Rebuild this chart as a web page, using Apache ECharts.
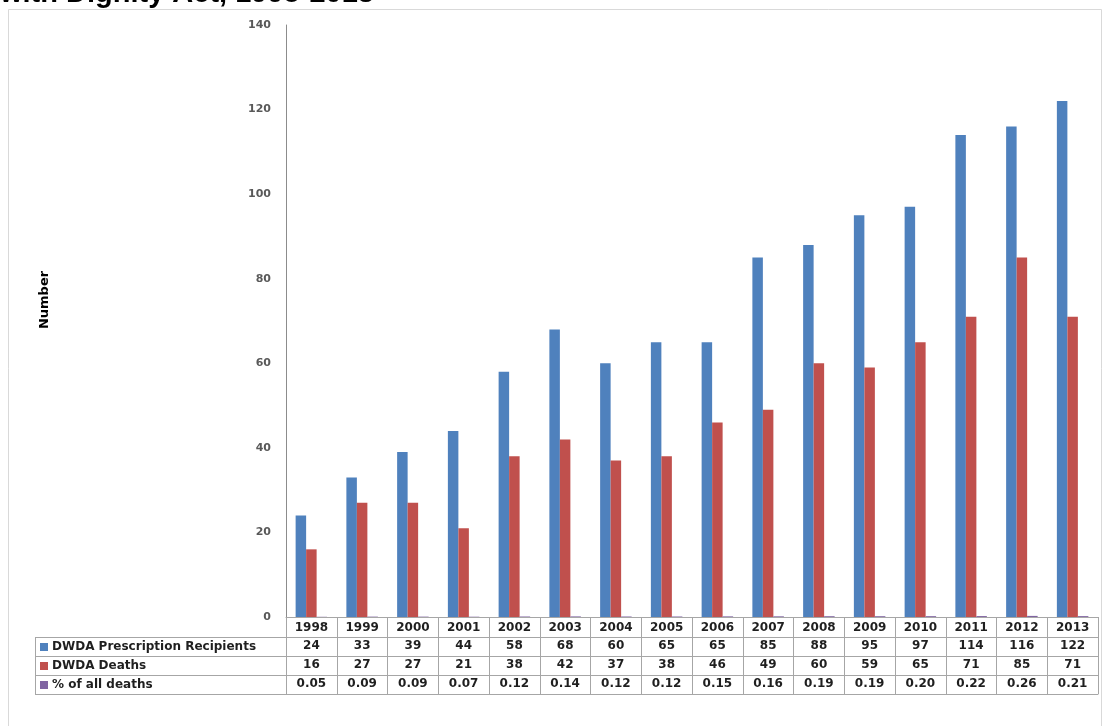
<!DOCTYPE html>
<html>
<head>
<meta charset="utf-8">
<title>DWDA prescription recipients and deaths, 1998-2013</title>
<script src="https://cdn.jsdelivr.net/npm/echarts@6/dist/echarts.min.js"></script>
<style>
  html, body { margin: 0; padding: 0; background: #ffffff; }
  #chart { width: 1107px; height: 726px; }
</style>
</head>
<body>
<div id="chart"></div>
<script>
// Oregon Death with Dignity Act, yearly figures
const years = ['1998', '1999', '2000', '2001', '2002', '2003', '2004', '2005',
               '2006', '2007', '2008', '2009', '2010', '2011', '2012', '2013'];
const recipients = [24, 33, 39, 44, 58, 68, 60, 65, 65, 85, 88, 95, 97, 114, 116, 122];
const deaths = [16, 27, 27, 21, 38, 42, 37, 38, 46, 49, 60, 59, 65, 71, 85, 71];
const pctOfAllDeaths = [0.05, 0.09, 0.09, 0.07, 0.12, 0.14, 0.12, 0.12,
                        0.15, 0.16, 0.19, 0.19, 0.20, 0.22, 0.26, 0.21];
const seriesNames = ['DWDA Prescription Recipients', 'DWDA Deaths', '% of all deaths'];
const yMin = 0, yMax = 140, yStep = 20;

const colors = ['#4F81BD', '#C0504D', '#8064A2'];
const lineColor = '#a6a6a6';
const textColor = '#1f1f1f';
const tableFont = 'DejaVu Sans';

// geometry of the plot and the data table under it
const gridLeft = 286, gridTop = 25, gridRight = 9, gridBottom = 109;
const chartBottom = 726 - gridBottom;       // y of the zero line
const yearRowH = 20, rowH = 19;
const rowOffsets = [yearRowH, yearRowH + rowH, yearRowH + 2 * rowH];
const tableH = yearRowH + 3 * rowH;
const rowTexts = [
  recipients.map(String),
  deaths.map(String),
  pctOfAllDeaths.map(v => v.toFixed(2))
];

const chart = echarts.init(document.getElementById('chart'), null, { renderer: 'canvas' });

// one extra category axis per table row, carrying that row's values as labels
const rowAxes = rowTexts.map((texts, i) => ({
  type: 'category',
  data: years,
  gridIndex: 0,
  position: 'bottom',
  offset: rowOffsets[i],
  axisLine: { show: true, lineStyle: { color: lineColor, width: 1 } },
  axisTick: { show: false },
  splitLine: { show: false },
  axisLabel: {
    interval: 0,
    margin: 3,
    fontFamily: tableFont,
    fontSize: 12,
    fontWeight: 'bold',
    color: textColor,
    formatter: (v, idx) => texts[idx]
  }
}));

// closing line under the last table row
const bottomAxis = {
  type: 'category',
  data: years,
  gridIndex: 0,
  position: 'bottom',
  offset: tableH,
  axisLine: { show: true, lineStyle: { color: lineColor, width: 1 } },
  axisTick: { show: false },
  axisLabel: { show: false },
  splitLine: { show: false }
};

// row headers of the table (left of the plot)
const headerLeft = 35;
const headerGraphics = [];
for (let i = 0; i <= 3; i++) {
  const y = chartBottom + yearRowH + i * rowH + 0.5;
  headerGraphics.push({
    type: 'line', silent: true,
    shape: { x1: headerLeft, y1: y, x2: gridLeft, y2: y },
    style: { stroke: lineColor, lineWidth: 1 }
  });
}
headerGraphics.push({
  type: 'line', silent: true,
  shape: { x1: headerLeft + 0.5, y1: chartBottom + yearRowH, x2: headerLeft + 0.5, y2: chartBottom + tableH },
  style: { stroke: lineColor, lineWidth: 1 }
});
seriesNames.forEach((name, i) => {
  const cy = chartBottom + yearRowH + i * rowH + rowH / 2 + 0.5;
  headerGraphics.push({
    type: 'rect', silent: true,
    shape: { x: 40, y: cy - 4, width: 8, height: 8 },
    style: { fill: colors[i] }
  });
  headerGraphics.push({
    type: 'text', silent: true,
    x: 52, y: cy,
    style: {
      text: name,
      fill: textColor,
      font: 'bold 12px "' + tableFont + '"',
      verticalAlign: 'middle',
      align: 'left'
    }
  });
});

const option = {
  animation: false,
  backgroundColor: '#ffffff',
  color: colors,
  grid: { left: gridLeft, top: gridTop, right: gridRight, bottom: gridBottom, containLabel: false },
  graphic: [
    {
      type: 'rect', silent: true, z: -10,
      shape: { x: 8.5, y: 9.5, width: 1093, height: 730 },
      style: { fill: '#ffffff', stroke: '#d9d9d9', lineWidth: 1 }
    },
    {
      type: 'text', silent: true,
      x: 0, y: 8,
      style: {
        text: 'with Dignity Act, 1998-2013',
        fill: '#000000',
        font: 'bold 29px "Liberation Sans"',
        verticalAlign: 'bottom',
        align: 'left'
      }
    },
    {
      type: 'text', silent: true,
      x: 45, y: 300, rotation: Math.PI / 2,
      style: {
        text: 'Number',
        fill: '#000000',
        font: 'bold 13px "DejaVu Sans"',
        verticalAlign: 'middle',
        align: 'center'
      }
    }
  ].concat(headerGraphics),
  xAxis: [
    {
      type: 'category',
      data: years,
      gridIndex: 0,
      position: 'bottom',
      boundaryGap: true,
      axisLine: { show: true, lineStyle: { color: lineColor, width: 1 } },
      axisTick: {
        show: true,
        interval: 0,
        alignWithLabel: false,
        length: tableH,
        lineStyle: { color: lineColor, width: 1 }
      },
      axisLabel: {
        interval: 0,
        margin: 5,
        fontFamily: tableFont,
        fontSize: 12,
        fontWeight: 'bold',
        color: textColor
      },
      splitLine: { show: false }
    }
  ].concat(rowAxes, [bottomAxis]),
  yAxis: {
    type: 'value',
    min: yMin,
    max: yMax,
    interval: yStep,
    axisLine: { show: true, lineStyle: { color: '#8c8c8c', width: 1 } },
    axisTick: { show: false },
    splitLine: { show: false },
    axisLabel: {
      margin: 15,
      fontFamily: tableFont,
      fontSize: 11,
      fontWeight: 'bold',
      color: '#595959'
    }
  },
  series: [
    { name: seriesNames[0], type: 'bar', data: recipients, barWidth: 10.5, barGap: '0%',
      itemStyle: { color: colors[0] } },
    { name: seriesNames[1], type: 'bar', data: deaths, barWidth: 10.5, barGap: '0%',
      itemStyle: { color: colors[1] } },
    { name: seriesNames[2], type: 'bar', data: pctOfAllDeaths, barWidth: 10.5, barGap: '0%',
      itemStyle: { color: colors[2] } }
  ]
};

chart.setOption(option);
</script>
</body>
</html>
